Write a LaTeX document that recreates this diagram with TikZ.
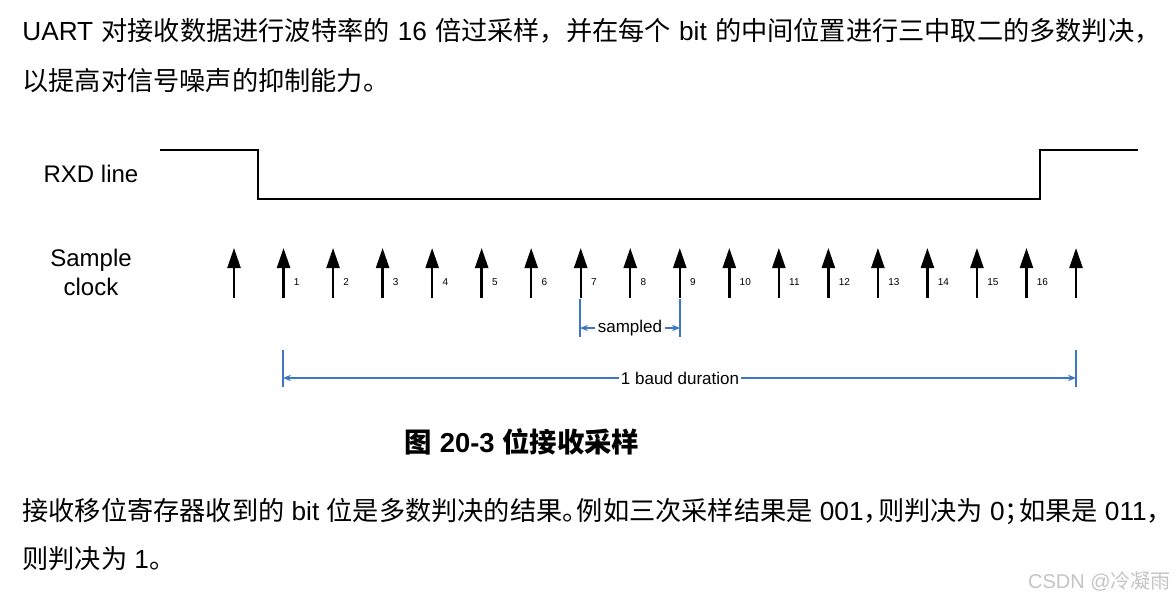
\documentclass[tikz,border=0pt]{standalone}
\usepackage{fontspec}
\setmainfont{Liberation Sans}
\newfontfamily\zhfont{Noto Sans CJK SC}
\usetikzlibrary{arrows.meta,positioning,calc}
\definecolor{dimblue}{RGB}{62,118,196}
\definecolor{wmgray}{RGB}{196,196,196}
\newcommand{\hz}[1]{{\zhfont #1}}
\newcommand{\hp}{\kern-0.45em}
\tikzset{
  para/.style={anchor=base west, inner sep=0pt, font=\fontsize{13.1}{15}\selectfont},
  sig/.style={line width=1pt, line join=miter},
  clk/.style={-{Triangle[length=10pt,width=6.5pt]}, line width=1.2pt},
  cnum/.style={font=\fontsize{5}{6}\selectfont, anchor=west, inner sep=0pt},
  lbl/.style={font=\fontsize{12}{14.5}\selectfont, align=center},
  dimtick/.style={dimblue, line width=0.9pt},
  dimarr/.style={-{Stealth[length=4pt,width=3.2pt]}, dimblue, line width=0.7pt},
  dimtxt/.style={inner sep=1pt, font=\fontsize{8.5}{10}\selectfont},
}

\begin{document}
\begin{tikzpicture}[x=0.5pt,y=-0.5pt]
  \useasboundingbox (0,0) rectangle (1176,600);
  % text above the figure
  \node[para] (top1) at (22,40)
    {\makebox[569pt][s]{UART \hz{对接收数据进行波特率的} 16 \hz{倍过采样，并在每个} bit \hz{的中间位置进行三中取二的多数判决，}}};
  \node[para] (top2) at (22,90) {\hz{以提高对信号噪声的抑制能力。}};
  % RXD waveform
  \node[lbl] (rxd) at (91,174) {RXD line};
  \coordinate (r0) at (160,150);
  \coordinate (r1) at (258,150);
  \coordinate (r2) at (258,199);
  \coordinate (r3) at (1040,199);
  \coordinate (r4) at (1040,150);
  \coordinate (r5) at (1138,150);
  \draw[sig] (r0) -- (r1) -- (r2) -- (r3) -- (r4) -- (r5);
  % sample clock
  \node[lbl] (smp) at (91,272) {Sample\\clock};
  \foreach \i in {0,...,17}{
    \coordinate (cb\i) at ({234+49.53*\i},298);
    \coordinate (ct\i) at ({234+49.53*\i},248);
    \draw[clk] (cb\i) -- (ct\i);
  }
  \foreach \i in {1,...,16}
    \node[cnum] (n\i) at ($(cb\i)+(10,-16)$) {\i};
  % sampled window
  \coordinate (sa) at (580,299);
  \coordinate (sb) at (580,337);
  \coordinate (sc) at (680,299);
  \coordinate (sd) at (680,337);
  \draw[dimtick] (sa) -- (sb);
  \draw[dimtick] (sc) -- (sd);
  \node[dimtxt] (smpd) at (630,328) {sampled};
  \coordinate (sl) at (580,328);
  \coordinate (sr) at (680,328);
  \draw[dimarr] (smpd) -- (sl);
  \draw[dimarr] (smpd) -- (sr);
  % baud duration
  \coordinate (ba) at (283,350);
  \coordinate (bb) at (283,387);
  \coordinate (bc) at (1076,350);
  \coordinate (bd) at (1076,387);
  \draw[dimtick] (ba) -- (bb);
  \draw[dimtick] (bc) -- (bd);
  \node[dimtxt] (baud) at (680,378) {1 baud duration};
  \coordinate (bl) at (283,378);
  \coordinate (br) at (1076,378);
  \draw[dimarr] (baud) -- (bl);
  \draw[dimarr] (baud) -- (br);
  % caption
  \node[font=\fontsize{13.7}{16}\selectfont\bfseries] (cap) at (522,442)
    {\hz{图} 20-3 \hz{位接收采样}};
  % text below the figure
  \node[para] (bot1) at (22,520)
    {\hz{接收移位寄存器收到的} bit \hz{位是多数判决的结果。\hp 例如三次采样结果是} 001\hz{，\hp 则判决为} 0\hz{；\hp 如果是} 011\hz{，}};
  \node[para] (bot2) at (22,568) {\hz{则判决为} 1\hz{。}};
  \node[font=\fontsize{10}{12}\selectfont, text=wmgray, anchor=east, inner sep=0pt] (wm) at (1171,581)
    {CSDN @\hz{冷凝雨}};
\end{tikzpicture}
\end{document}
